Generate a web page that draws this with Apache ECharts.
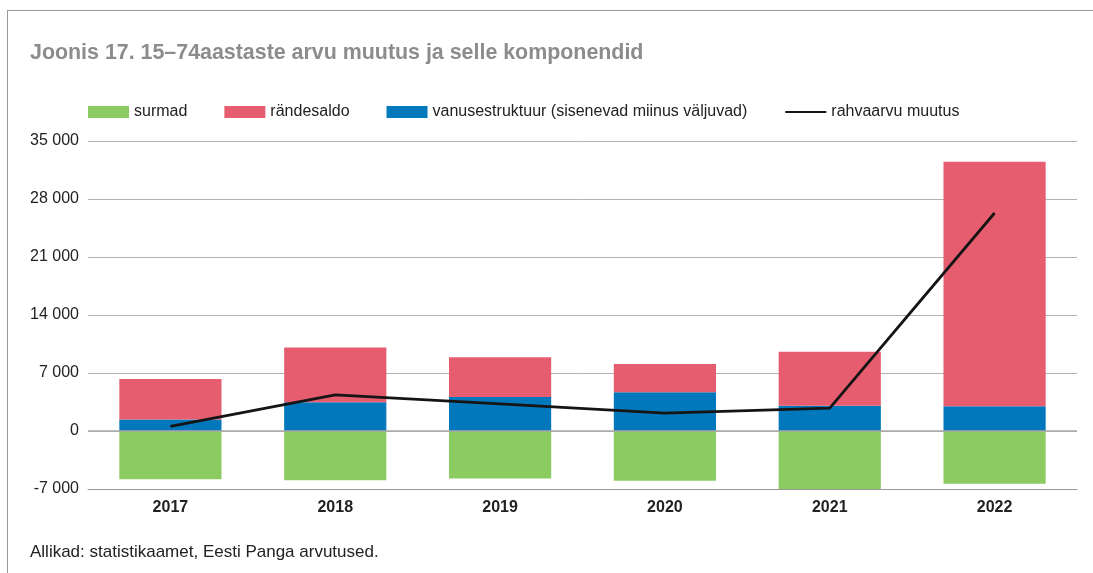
<!DOCTYPE html>
<html>
<head>
<meta charset="utf-8">
<title>Joonis 17</title>
<script src="https://cdn.jsdelivr.net/npm/echarts@6/dist/echarts.min.js"></script>
<style>
  html, body { margin: 0; padding: 0; background: #fff; }
  #frame { position: absolute; left: 7px; top: 10px; right: 0; bottom: 0; border-left: 1px solid #9a9a9a; border-top: 1px solid #9a9a9a; }
  #chart { position: absolute; left: 0; top: 0; width: 1093px; height: 573px; }
</style>
</head>
<body>
<div id="frame"></div>
<div id="chart"></div>
<script>
// data
var years = ["2017", "2018", "2019", "2020", "2021", "2022"];
var surmad = [-5820, -5940, -5730, -6010, -7000, -6370];
var randesaldo = [4890, 6610, 4810, 3400, 6520, 29510];
var vanusestruktuur = [1390, 3480, 4090, 4690, 3040, 3000];
var rahvaarvuMuutus = [550, 4360, 3280, 2160, 2760, 26310];

var font = '"Liberation Sans", Arial, sans-serif';

function fmt(v) {
  return String(v).replace(/\B(?=(\d{3})+(?!\d))/g, " ");
}

var chart = echarts.init(document.getElementById("chart"));

chart.setOption({
  animation: false,
  textStyle: { fontFamily: font },
  title: [
    {
      text: "Joonis 17. 15–74aastaste arvu muutus ja selle komponendid",
      left: 30,
      top: 43,
      padding: 0,
      textStyle: { fontFamily: font, fontSize: 21.4, fontWeight: "bold", color: "#8c8c8c" }
    },
    {
      text: "Allikad: statistikaamet, Eesti Panga arvutused.",
      left: 30,
      top: 544,
      padding: 0,
      textStyle: { fontFamily: font, fontSize: 17, fontWeight: "normal", color: "#222" }
    }
  ],
  legend: {
    data: [
      { name: "surmad", icon: "rect" },
      { name: "rändesaldo", icon: "rect" },
      { name: "vanusestruktuur (sisenevad miinus väljuvad)", icon: "rect" },
      { name: "rahvaarvu muutus", itemStyle: { opacity: 0 } }
    ],
    left: 88,
    top: 104,
    padding: 0,
    itemWidth: 41,
    itemHeight: 12,
    itemGap: 37,
    textStyle: { fontFamily: font, fontSize: 16, color: "#222" }
  },
  grid: {
    left: 88,
    right: 16,
    top: 141,
    bottom: 84,
    containLabel: false
  },
  xAxis: {
    type: "category",
    data: years,
    axisLine: { onZero: false, lineStyle: { color: "#999", width: 1 } },
    axisTick: { inside: true, length: 8, lineStyle: { color: "#999" } },
    axisLabel: { margin: 11, fontFamily: font, fontSize: 16, fontWeight: "bold", color: "#222" }
  },
  yAxis: {
    type: "value",
    min: -7000,
    max: 35000,
    interval: 7000,
    axisLine: { show: false },
    axisTick: { show: false },
    axisLabel: {
      margin: 9,
      fontFamily: font,
      fontSize: 16,
      color: "#222",
      formatter: fmt
    },
    splitLine: { lineStyle: { color: "#b3b3b3", width: 1 } }
  },
  series: [
    {
      name: "surmad",
      type: "bar",
      stack: "k",
      barWidth: "62%",
      itemStyle: { color: "#8bcb62" },
      data: surmad
    },
    {
      name: "vanusestruktuur (sisenevad miinus väljuvad)",
      type: "bar",
      stack: "k",
      itemStyle: { color: "#0078bb" },
      data: vanusestruktuur
    },
    {
      name: "rändesaldo",
      type: "bar",
      stack: "k",
      itemStyle: { color: "#e75d70" },
      data: randesaldo
    },
    {
      name: "rahvaarvu muutus",
      type: "line",
      showSymbol: false,
      symbol: "none",
      itemStyle: { color: "#151515" },
      lineStyle: { color: "#151515", width: 2.8 },
      markLine: {
        silent: true,
        symbol: "none",
        label: { show: false },
        lineStyle: { color: "#a8a8a8", width: 1.5, type: "solid" },
        data: [{ yAxis: 0 }]
      },
      data: rahvaarvuMuutus
    }
  ]
});
</script>
</body>
</html>
